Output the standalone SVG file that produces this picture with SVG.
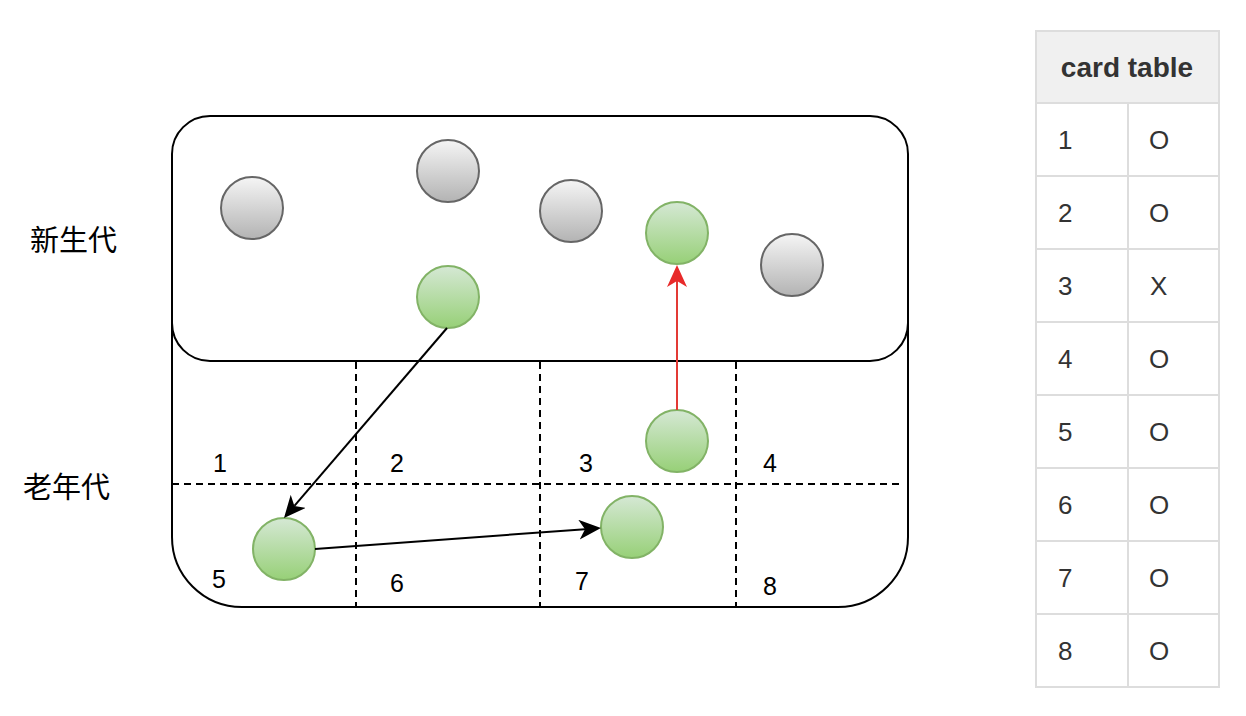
<svg xmlns="http://www.w3.org/2000/svg" width="1246" height="716" viewBox="0 0 1246 716">
<style>
.box{fill:#fff;stroke:#000;stroke-width:2}
.dash{fill:none;stroke:#000;stroke-width:2;stroke-dasharray:7 5}
.gray{fill:url(#gGray);stroke:#666;stroke-width:2}
.green{fill:url(#gGreen);stroke:#82b366;stroke-width:2}
.num{font-family:"Liberation Sans",Arial,sans-serif;font-size:25px;fill:#000}
.cjk{font-family:"Noto Sans CJK SC",sans-serif;font-size:29px;fill:#000}
.edge{fill:none;stroke:#000;stroke-width:2}
.red{fill:none;stroke:#e33a35;stroke-width:2}
.cell{fill:#fff;stroke:#dddddd;stroke-width:2}
.hdr{fill:#f0f0f0;stroke:#dddddd;stroke-width:2}
.tt{font-family:"Liberation Sans",Arial,sans-serif;font-size:26px;fill:#333}
.th{font-family:"Liberation Sans",Arial,sans-serif;font-size:28px;font-weight:bold;fill:#333}
</style>
<defs>
<linearGradient id="gGray" x1="0" y1="0" x2="0" y2="1"><stop offset="0" stop-color="#f5f5f5"/><stop offset="1" stop-color="#b3b3b3"/></linearGradient>
<linearGradient id="gGreen" x1="0" y1="0" x2="0" y2="1"><stop offset="0" stop-color="#d5e8d4"/><stop offset="1" stop-color="#97d077"/></linearGradient>
<marker id="ahB" viewBox="0 0 22 20" refX="6" refY="10" markerWidth="22" markerHeight="20" markerUnits="userSpaceOnUse" orient="auto"><path d="M0,0 L22,10 L0,20 L6,10 Z" fill="#000"/></marker>
<marker id="ahR" viewBox="0 0 22 20" refX="6" refY="10" markerWidth="22" markerHeight="20" markerUnits="userSpaceOnUse" orient="auto"><path d="M0,0 L22,10 L0,20 L6,10 Z" fill="#e82a2a"/></marker>
</defs>
<rect width="1246" height="716" fill="#fff"/>
<g id="old-gen">
<path class="box" d="M172,250 L172,537 A70,70 0 0 0 242,607 L838,607 A70,70 0 0 0 908,537 L908,250"/>
<line class="dash" x1="172" y1="484" x2="903" y2="484"/>
<line class="dash" x1="356" y1="362" x2="356" y2="607"/>
<line class="dash" x1="540" y1="362" x2="540" y2="607"/>
<line class="dash" x1="736" y1="362" x2="736" y2="607"/>
<text class="num" x="213" y="472">1</text>
<text class="num" x="390" y="472">2</text>
<text class="num" x="579" y="472">3</text>
<text class="num" x="763" y="472">4</text>
<text class="num" x="212" y="588">5</text>
<text class="num" x="390" y="592">6</text>
<text class="num" x="575" y="590">7</text>
<text class="num" x="763" y="595">8</text>
</g>
<g id="young-gen">
<rect class="box" x="172" y="116" width="736" height="245" rx="38" ry="38"/>
</g>
<g id="label-young"><text class="cjk" x="30" y="251">新生代</text></g>
<g id="label-old"><text class="cjk" x="23" y="498">老年代</text></g>
<g id="obj-y1"><circle class="gray" cx="252" cy="208" r="31"/></g>
<g id="obj-y2"><circle class="gray" cx="448" cy="171" r="31"/></g>
<g id="obj-y3"><circle class="gray" cx="571" cy="211" r="31"/></g>
<g id="obj-y4"><circle class="gray" cx="792" cy="265" r="31"/></g>
<g id="obj-y5"><circle class="green" cx="448" cy="297" r="31"/></g>
<g id="obj-y6"><circle class="green" cx="677" cy="233" r="31"/></g>
<g id="obj-o5"><circle class="green" cx="284" cy="549" r="31"/></g>
<g id="obj-o3"><circle class="green" cx="677" cy="441" r="31"/></g>
<g id="obj-o7"><circle class="green" cx="632" cy="527" r="31"/></g>
<g id="connectors">
<line class="edge" x1="447" y1="328" x2="294.4" y2="505.9" marker-end="url(#ahB)"/>
<line class="edge" x1="315" y1="549" x2="585" y2="529.2" marker-end="url(#ahB)"/>
<line class="red" x1="677" y1="410" x2="677" y2="281" marker-end="url(#ahR)"/>
</g>
<g id="card-table">
<rect class="hdr" x="1036" y="31" width="183" height="72"/>
<text class="th" x="1127" y="77" text-anchor="middle">card table</text>
<rect class="cell" x="1036" y="103" width="92" height="73"/><rect class="cell" x="1128" y="103" width="91" height="73"/>
<rect class="cell" x="1036" y="176" width="92" height="73"/><rect class="cell" x="1128" y="176" width="91" height="73"/>
<rect class="cell" x="1036" y="249" width="92" height="73"/><rect class="cell" x="1128" y="249" width="91" height="73"/>
<rect class="cell" x="1036" y="322" width="92" height="73"/><rect class="cell" x="1128" y="322" width="91" height="73"/>
<rect class="cell" x="1036" y="395" width="92" height="73"/><rect class="cell" x="1128" y="395" width="91" height="73"/>
<rect class="cell" x="1036" y="468" width="92" height="73"/><rect class="cell" x="1128" y="468" width="91" height="73"/>
<rect class="cell" x="1036" y="541" width="92" height="73"/><rect class="cell" x="1128" y="541" width="91" height="73"/>
<rect class="cell" x="1036" y="614" width="92" height="73"/><rect class="cell" x="1128" y="614" width="91" height="73"/>
<text class="tt" x="1058" y="149">1</text><text class="tt" x="1149" y="149">O</text>
<text class="tt" x="1058" y="222">2</text><text class="tt" x="1149" y="222">O</text>
<text class="tt" x="1058" y="295">3</text><text class="tt" x="1150" y="295">X</text>
<text class="tt" x="1058" y="368">4</text><text class="tt" x="1149" y="368">O</text>
<text class="tt" x="1058" y="441">5</text><text class="tt" x="1149" y="441">O</text>
<text class="tt" x="1058" y="514">6</text><text class="tt" x="1149" y="514">O</text>
<text class="tt" x="1058" y="587">7</text><text class="tt" x="1149" y="587">O</text>
<text class="tt" x="1058" y="660">8</text><text class="tt" x="1149" y="660">O</text>
</g>
</svg>
